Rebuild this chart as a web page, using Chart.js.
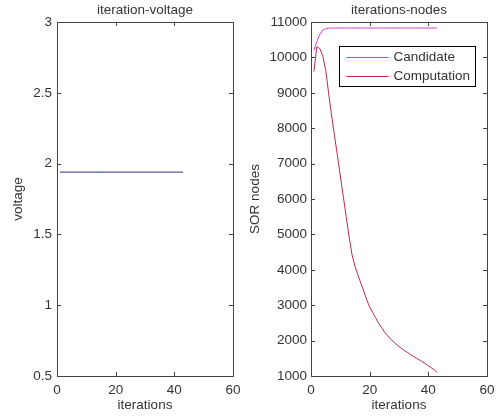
<!DOCTYPE html>
<html>
<head>
<meta charset="utf-8">
<script src="https://cdn.jsdelivr.net/npm/chart.js@4.4.0/dist/chart.umd.min.js"></script>
<style>
  body { margin: 0; background: #fff; }
  #wrap { position: relative; width: 497px; height: 417px; }
  .box { position: absolute; top: 0; height: 417px; }
</style>
</head>
<body>
<div id="wrap">
  <div class="box" style="left:0;width:240px"><canvas id="voltChart"></canvas></div>
  <div class="box" style="left:240px;width:257px"><canvas id="nodeChart"></canvas></div>
</div>
<script>
// iteration numbers 1..43
var iterations = [];
for (var i = 1; i <= 43; i++) iterations.push(i);

// voltage stays flat over all iterations
var voltage = [1.94, 1.94, 1.94, 1.94, 1.94, 1.94, 1.94, 1.94, 1.94, 1.94,
               1.94, 1.94, 1.94, 1.94, 1.94, 1.94, 1.94, 1.94, 1.94, 1.94,
               1.94, 1.94, 1.94, 1.94, 1.94, 1.94, 1.94, 1.94, 1.94, 1.94,
               1.94, 1.94, 1.94, 1.94, 1.94, 1.94, 1.94, 1.94, 1.94, 1.94,
               1.94, 1.94, 1.94];

var candidate = [10200, 10450, 10650, 10770, 10810, 10825, 10830, 10830, 10830, 10830,
                 10830, 10830, 10830, 10830, 10830, 10830, 10830, 10830, 10830, 10830,
                 10830, 10830, 10830, 10830, 10830, 10830, 10830, 10830, 10830, 10830,
                 10830, 10830, 10830, 10830, 10830, 10830, 10830, 10830, 10830, 10830,
                 10830, 10830, 10830];

var computation = [9600, 10300, 10250, 10050, 9650, 9000, 8370, 7800, 7230, 6650,
                   6080, 5500, 4930, 4420, 4100, 3850, 3620, 3400, 3150, 2950,
                   2800, 2650, 2500, 2380, 2250, 2150, 2050, 1980, 1900, 1830,
                   1770, 1710, 1660, 1600, 1550, 1500, 1450, 1400, 1350, 1290,
                   1230, 1180, 1100];

var xTicks = [0, 20, 40, 60];

function points(ys) {
    var out = [];
    for (var i = 0; i < ys.length; i++) out.push({x: iterations[i], y: ys[i]});
    return out;
}

var font = {family: '"Liberation Sans", Arial, sans-serif', size: 13.5, weight: 'normal'};
var textColor = '#333';

// matlab style box with inward ticks on every side
var boxPlugin = {
    id: 'matlabBox',
    afterDatasetsDraw: function(chart) {
        var ctx = chart.ctx, a = chart.chartArea;
        var xs = chart.scales.x, ys = chart.scales.y;
        ctx.save();
        ctx.strokeStyle = '#444';
        ctx.lineWidth = 1;
        ctx.strokeRect(Math.round(a.left) + 0.5, Math.round(a.top) + 0.5,
                       Math.round(a.right - a.left), Math.round(a.bottom - a.top));
        ctx.beginPath();
        xs.ticks.forEach(function(t) {
            var px = Math.round(xs.getPixelForValue(t.value)) + 0.5;
            ctx.moveTo(px, a.bottom); ctx.lineTo(px, a.bottom - 4);
            ctx.moveTo(px, a.top); ctx.lineTo(px, a.top + 4);
        });
        ys.ticks.forEach(function(t) {
            var py = Math.round(ys.getPixelForValue(t.value)) + 0.5;
            ctx.moveTo(a.left, py); ctx.lineTo(a.left + 4, py);
            ctx.moveTo(a.right, py); ctx.lineTo(a.right - 4, py);
        });
        ctx.stroke();

        // title centred over the plot box
        ctx.fillStyle = textColor;
        ctx.font = '13.5px "Liberation Sans", Arial, sans-serif';
        ctx.textAlign = 'center';
        ctx.textBaseline = 'middle';
        ctx.fillText(chart.options.plugins.boxTitle.text, (a.left + a.right) / 2, 10);

        var lg = chart.options.plugins.boxLegend;
        if (lg && lg.show) {
            var w = 136, h = 40;
            var bx = Math.round(a.right - 12 - w) + 0.5, by = Math.round(a.top + 24) + 0.5;
            ctx.fillStyle = '#fff';
            ctx.fillRect(bx, by, w, h);
            ctx.strokeStyle = '#000';
            ctx.strokeRect(bx, by, w, h);
            ctx.textAlign = 'left';
            chart.data.datasets.forEach(function(ds, k) {
                var ry = by + 11 + k * 19;
                ctx.strokeStyle = ds.borderColor;
                ctx.beginPath();
                ctx.moveTo(bx + 7, ry); ctx.lineTo(bx + 49, ry);
                ctx.stroke();
                ctx.fillStyle = textColor;
                ctx.fillText(ds.label, bx + 54, ry);
            });
        }
        ctx.restore();
    }
};

function makeOptions(cfg) {
    return {
        responsive: true,
        maintainAspectRatio: false,
        animation: false,
        layout: {padding: {left: 0, right: cfg.padRight, top: 22, bottom: 0}},
        plugins: {
            legend: {display: false},
            tooltip: {enabled: false},
            title: {display: false},
            boxTitle: {text: cfg.title},
            boxLegend: {show: cfg.legend}
        },
        scales: {
            x: {
                type: 'linear', min: 0, max: 60,
                afterBuildTicks: function(s) { s.ticks = xTicks.map(function(v) { return {value: v}; }); },
                afterFit: function(s) { s.height = 41; s.paddingLeft = 0; s.paddingRight = 0; },
                grid: {display: false, drawTicks: false},
                border: {display: false},
                ticks: {color: textColor, font: font, padding: cfg.xPad, maxRotation: 0},
                title: {display: true, text: 'iterations', color: textColor, font: font,
                        padding: {top: 0, bottom: 4}}
            },
            y: {
                min: cfg.yMin, max: cfg.yMax,
                afterFit: function(s) { s.width = cfg.yWidth; s.paddingTop = 0; s.paddingBottom = 0; },
                grid: {display: false, drawTicks: false},
                border: {display: false},
                ticks: {color: textColor, font: font, stepSize: cfg.yStep, padding: cfg.yPad,
                        callback: function(v) { return String(v); }},
                title: {display: true, text: cfg.yTitle, color: textColor, font: font,
                        padding: {top: cfg.yTitlePad, bottom: 0}}
            }
        }
    };
}

new Chart(document.getElementById('voltChart'), {
    type: 'line',
    data: {
        datasets: [{
            label: 'voltage',
            data: points(voltage),
            borderColor: '#2b2b80',
            borderWidth: 1,
            pointRadius: 0,
            tension: 0
        }]
    },
    options: makeOptions({title: 'iteration-voltage', yTitle: 'voltage', yMin: 0.5, yMax: 3,
                          yStep: 0.5, yWidth: 57, padRight: 7, yPad: 5, xPad: 6,
                          yTitlePad: 10, legend: false}),
    plugins: [boxPlugin]
});

new Chart(document.getElementById('nodeChart'), {
    type: 'line',
    data: {
        datasets: [{
            label: 'Candidate',
            data: points(candidate),
            borderColor: '#cc40cc',
            borderWidth: 1,
            pointRadius: 0,
            tension: 0
        }, {
            label: 'Computation',
            data: points(computation),
            borderColor: '#b82c48',
            borderWidth: 1,
            pointRadius: 0,
            tension: 0
        }]
    },
    options: makeOptions({title: 'iterations-nodes', yTitle: 'SOR nodes', yMin: 1000, yMax: 11000,
                          yStep: 1000, yWidth: 71, padRight: 10, yPad: 4, xPad: 6,
                          yTitlePad: 7, legend: true}),
    plugins: [boxPlugin]
});
</script>
</body>
</html>
